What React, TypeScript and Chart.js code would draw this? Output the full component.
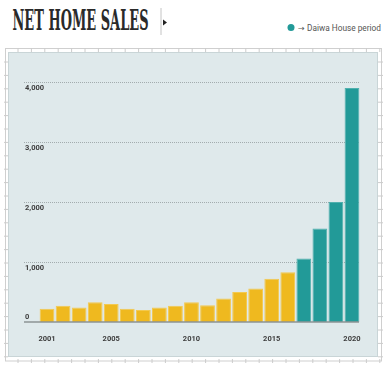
import React, { useEffect, useRef } from "react";
import { Chart, registerables } from "chart.js";

Chart.register(...registerables);

const years = [
  "2001", "2002", "2003", "2004", "2005", "2006", "2007", "2008", "2009", "2010",
  "2011", "2012", "2013", "2014", "2015", "2016", "2017", "2018", "2019", "2020",
];
const netHomeSales = [
  220, 270, 240, 330, 300, 220, 200, 240, 270, 330,
  280, 390, 500, 560, 720, 830, 1060, 1560, 2000, 3900,
];
const daiwaStartYear = 2017;
const xTickYears = ["2001", "2005", "2010", "2015", "2020"];
const yTickValues = [0, 1000, 2000, 3000, 4000];

const YELLOW = "#efb91f";
const YELLOW_EDGE = "#f3c94f";
const TEAL = "#229a98";
const TEAL_EDGE = "#4fb0ae";

const yLabelPlugin = {
  id: "yLabels",
  beforeDatasetsDraw(chart: any) {
    const { ctx, chartArea, scales } = chart;
    const y = scales.y;
    ctx.save();
    ctx.strokeStyle = "#a3acae";
    ctx.lineWidth = 1;
    ctx.setLineDash([1, 1]);
    yTickValues.forEach((v) => {
      if (v === 0) return;
      const py = Math.round(y.getPixelForValue(v)) + 0.5;
      ctx.beginPath();
      ctx.moveTo(chartArea.left - 15, py);
      ctx.lineTo(chartArea.right, py);
      ctx.stroke();
    });
    ctx.restore();
  },
  afterDatasetsDraw(chart: any) {
    const { ctx, chartArea, scales } = chart;
    const y = scales.y;
    ctx.save();
    const by = y.getPixelForValue(0);
    ctx.strokeStyle = "#8c9395";
    ctx.lineWidth = 1.5;
    ctx.beginPath();
    ctx.moveTo(chartArea.left - 15, by);
    ctx.lineTo(chartArea.right - 1, by);
    ctx.stroke();
    ctx.fillStyle = "#3d3d3d";
    ctx.font = "bold 7.5px Roboto";
    ctx.textAlign = "left";
    ctx.textBaseline = "middle";
    yTickValues.forEach((v) => {
      const py = y.getPixelForValue(v);
      const label = v.toLocaleString("en-US");
      ctx.fillText(label, chartArea.left - 14, v === 0 ? py - 5 : py + 6.5);
    });
    ctx.restore();
  },
};

function ChartCanvas() {
  const ref = useRef<HTMLCanvasElement>(null);
  useEffect(() => {
    if (!ref.current) return;
    const isDaiwa = years.map((yr) => Number(yr) >= daiwaStartYear);
    const chart = new Chart(ref.current, {
      type: "bar",
      data: {
        labels: years,
        datasets: [
          {
            data: netHomeSales,
            backgroundColor: isDaiwa.map((d) => (d ? TEAL : YELLOW)),
            borderColor: isDaiwa.map((d) => (d ? TEAL_EDGE : YELLOW_EDGE)),
            borderWidth: { top: 1, left: 1, right: 1, bottom: 0 },
            barPercentage: 0.92,
            categoryPercentage: 1,
          },
        ],
      },
      options: {
        animation: false,
        responsive: false,
        devicePixelRatio: 1,
        layout: { padding: { left: 31, right: 18, top: 30, bottom: 0 } },
        plugins: { legend: { display: false }, tooltip: { enabled: false } },
        scales: {
          y: { display: false, min: 0, max: 4000 },
          x: {
            grid: { display: false },
            border: { display: false },
            afterFit: (s: any) => {
              s.height = 35;
            },
            ticks: {
              autoSkip: false,
              maxRotation: 0,
              padding: 5,
              color: "#3d3d3d",
              font: { family: "Roboto", size: 7.5, weight: "bold" },
              callback: (_v: any, i: number) => (xTickYears.includes(years[i]) ? years[i] : ""),
            },
          },
        },
      },
      plugins: [yLabelPlugin],
    });
    return () => chart.destroy();
  }, []);
  return (
    <canvas
      ref={ref}
      width={370}
      height={305}
      style={{ position: "absolute", left: 8, top: 52, width: 370, height: 305 }}
    />
  );
}

function Frame() {
  const topTicks: number[] = [];
  for (let x = 18; x < 381; x += 13.4) topTicks.push(x);
  const sideTicks: number[] = [];
  for (let y = 62; y < 361; y += 13.4) sideTicks.push(y);
  return (
    <svg width={386} height={366} style={{ position: "absolute", left: 0, top: 0 }}>
      <rect x={5.5} y={48.5} width={376} height={312.5} fill="#ffffff" stroke="#cfcfcf" strokeWidth={1} />
      {topTicks.map((x, i) => (
        <g key={"t" + i}>
          <line x1={x} y1={48} x2={x} y2={52} stroke="#cccccc" strokeWidth={1} />
          <line x1={x} y1={359} x2={x} y2={363} stroke="#cccccc" strokeWidth={1} />
        </g>
      ))}
      {sideTicks.map((y, i) => (
        <g key={"s" + i}>
          <line x1={4} y1={y} x2={8} y2={y} stroke="#cccccc" strokeWidth={1} />
          <line x1={378} y1={y} x2={383} y2={y} stroke="#cccccc" strokeWidth={1} />
        </g>
      ))}
      <rect x={8.5} y={52.5} width={369} height={304} fill="#dfe9eb" stroke="#c9d5d7" strokeWidth={1} />
    </svg>
  );
}

export default function App() {
  return (
    <div
      style={{
        position: "fixed",
        left: 0,
        top: 0,
        width: 386,
        height: 366,
        background: "#ffffff",
        overflow: "hidden",
      }}
    >
      <Frame />
      <svg width={386} height={48} style={{ position: "absolute", left: 0, top: 0 }}>
        <text
          x={12.5}
          y={30}
          textLength={136}
          lengthAdjust="spacingAndGlyphs"
          fontFamily="DejaVu Serif"
          fontWeight="bold"
          fontSize={28}
          fill="#2a2a2a"
        >
          NET HOME SALES
        </text>
        <line x1={161} y1={8} x2={161} y2={35} stroke="#c4c4c4" strokeWidth={1} />
        <polygon points="163,19.5 167,22.5 163,25.5" fill="#222222" />
        <circle cx={291} cy={27.5} r={3.5} fill={TEAL} />
        <text x={298} y={30.5} fontFamily="DejaVu Sans" fontSize={8} fill="#555555">
          →
        </text>
        <text
          x={307}
          y={30.5}
          textLength={74}
          lengthAdjust="spacingAndGlyphs"
          fontFamily="Roboto"
          fontSize={9.5}
          fill="#555555"
        >
          Daiwa House period
        </text>
      </svg>
      <ChartCanvas />
    </div>
  );
}
